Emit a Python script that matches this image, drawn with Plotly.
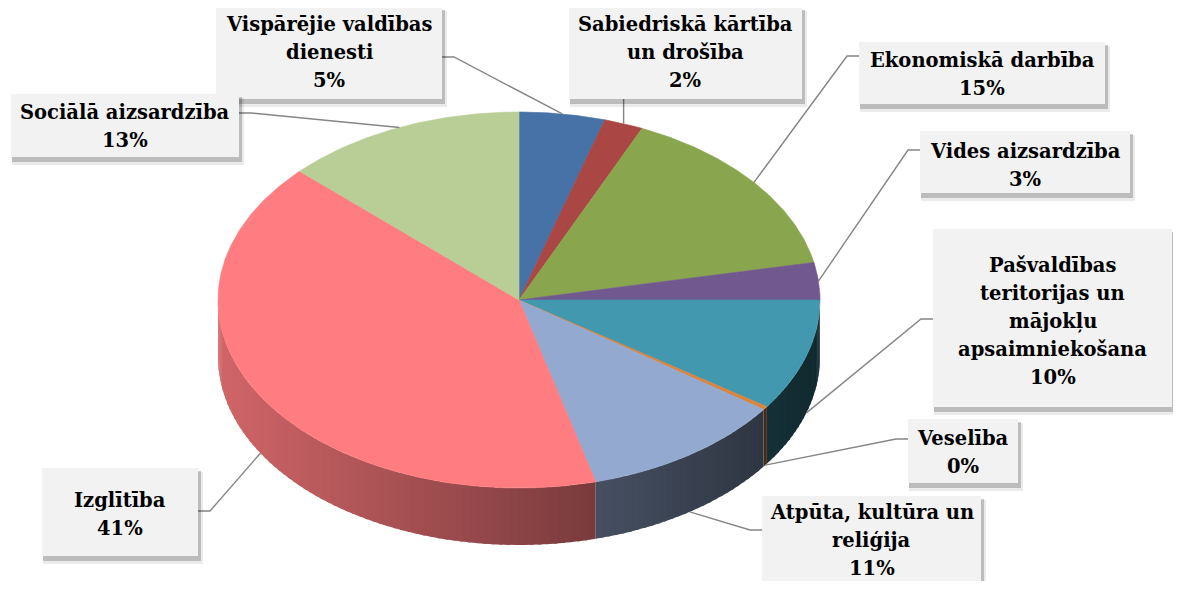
import numpy as np
import plotly.graph_objects as go

# ---------------- data ----------------
categories = [
    "Vispārējie valdības dienesti",
    "Sabiedriskā kārtība un drošība",
    "Ekonomiskā darbība",
    "Vides aizsardzība",
    "Pašvaldības teritorijas un mājokļu apsaimniekošana",
    "Veselība",
    "Atpūta, kultūra un reliģija",
    "Izglītība",
    "Sociālā aizsardzība",
]
label_lines = [
    ["Vispārējie valdības", "dienesti"],
    ["Sabiedriskā kārtība", "un drošība"],
    ["Ekonomiskā darbība"],
    ["Vides aizsardzība"],
    ["Pašvaldības", "teritorijas un", "mājokļu", "apsaimniekošana"],
    ["Veselība"],
    ["Atpūta, kultūra un", "reliģija"],
    ["Izglītība"],
    ["Sociālā aizsardzība"],
]
values = [4.6, 2.1, 15.1, 3.2, 9.6, 0.3, 11.0, 41.1, 13.0]
colors = ["#4672a8", "#aa4643", "#89a54e", "#71588f", "#4198af",
          "#db843d", "#93a9cf", "#ff7c80", "#b9cd96"]

# ---------------- layout / geometry ----------------
W, H = 1181, 589
OFF = 8  # page body margin
CX, CY, RX, RY, DEPTH = 519, 300, 301, 188, 57
LINE_H = 28

# label boxes (x0, y0, x1, y1), text centre y, leader attach side, attach coordinate
boxes = [
    (216, 7, 442, 99, 52, "right", 57),
    (569, 7, 802, 99, 52, "bottom", None),
    (859, 42, 1105, 104, 74, "left", 56),
    (920, 131, 1130, 193, 165, "left", 150),
    (933, 229, 1172, 407, 321, "left", 319),
    (908, 419, 1018, 483, 452, "left", 439),
    (762, 496, 981, 600, 540, "left", 530),
    (42, 468, 198, 556, 514, "right", 511),
    (11, 94, 239, 157, 126, "right", 113),
]


def hex2rgb(h):
    h = h.lstrip("#")
    return tuple(int(h[i:i + 2], 16) for i in (0, 2, 4))


def shade(hexcol, f):
    r, g, b = hex2rgb(hexcol)
    return "rgb(%d,%d,%d)" % (int(r * f), int(g * f), int(b * f))


def ell(theta_deg):
    t = np.radians(theta_deg)
    return CX + RX * np.sin(t), CY - RY * np.cos(t)


total = sum(values)
fracs = [v / total for v in values]
starts = np.concatenate([[0], np.cumsum(fracs)[:-1]]) * 360
ends = np.cumsum(fracs) * 360

fig = go.Figure()

# side walls (front half: 90..270 deg)
for k in range(len(values)):
    a, b = max(starts[k], 90), min(ends[k], 270)
    if b <= a:
        continue
    n = max(1, int(np.ceil((b - a) / 1.5)))
    edges = np.linspace(a, b, n + 1)
    for i in range(n):
        t0, t1 = edges[i], min(edges[i + 1] + 0.6, b)
        tt = np.linspace(t0, t1, 4)
        xs, ys = ell(tt)
        px = list(xs) + list(xs[::-1]) + [xs[0]]
        py = list(ys) + list((ys + DEPTH)[::-1]) + [ys[0]]
        xm = (xs.mean() - (CX - RX)) / (2 * RX)
        f = 0.82 - 0.55 * xm
        col = shade(colors[k], f)
        fig.add_trace(go.Scatter(x=px, y=py, mode="lines", fill="toself",
                                 fillcolor=col, line=dict(width=0),
                                 hoverinfo="skip", showlegend=False))

# top face
for k in range(len(values)):
    tt = np.linspace(starts[k], ends[k], max(3, int((ends[k] - starts[k]) * 2) + 2))
    xs, ys = ell(tt)
    px = [CX] + list(xs) + [CX]
    py = [CY] + list(ys) + [CY]
    fig.add_trace(go.Scatter(x=px, y=py, mode="lines", fill="toself",
                             fillcolor=colors[k], line=dict(color=colors[k], width=0.6),
                             hoverinfo="skip", showlegend=False, name=categories[k]))

# leader lines, label boxes and texts
shapes = []
annotations = []
for k in range(len(values)):
    x0, y0, x1, y1, ty, side, ay = boxes[k]
    mid = (starts[k] + ends[k]) / 2
    ex, ey = ell(mid)
    if 90 < mid < 270:
        ey = ey + DEPTH
    if side == "right":
        lx, ly = [x1, x1 + 12, ex], [ay, ay, ey]
    elif side == "left":
        lx, ly = [x0, x0 - 12, ex], [ay, ay, ey]
    else:
        lx, ly = [ex, ex], [y1, ey]
    fig.add_trace(go.Scatter(x=lx, y=ly, mode="lines",
                             line=dict(color="#858585", width=1.4),
                             hoverinfo="skip", showlegend=False))
    shapes.append(dict(type="rect", xref="x", yref="y", x0=x0 + 1, y0=y0 + 4,
                       x1=x1 + 5, y1=y1 + 8, fillcolor="rgba(0,0,0,0.08)",
                       line=dict(width=0), layer="above"))
    shapes.append(dict(type="rect", xref="x", yref="y", x0=x0 + 1, y0=y0 + 3,
                       x1=x1 + 3, y1=y1 + 5, fillcolor="rgba(0,0,0,0.20)",
                       line=dict(width=0), layer="above"))
    shapes.append(dict(type="rect", xref="x", yref="y", x0=x0, y0=y0,
                       x1=x1, y1=y1, fillcolor="#f2f2f2",
                       line=dict(width=0), layer="above"))
    pct = int(round(fracs[k] * 100))
    lines = label_lines[k] + ["%d%%" % pct]
    nl = len(lines)
    for i, ln in enumerate(lines):
        annotations.append(dict(
            x=(x0 + x1) / 2, y=ty + (i - (nl - 1) / 2) * LINE_H,
            xref="x", yref="y", text="<b>%s</b>" % ln,
            showarrow=False, xanchor="center", yanchor="middle",
            font=dict(family="DejaVu Serif", size=19.5, color="#000000")))

fig.update_layout(
    width=W - 2 * OFF, height=H - 2 * OFF,
    margin=dict(l=0, r=0, t=0, b=0),
    paper_bgcolor="white", plot_bgcolor="white",
    xaxis=dict(range=[OFF, W - OFF], visible=False, fixedrange=True),
    yaxis=dict(range=[H - OFF, OFF], visible=False, fixedrange=True),
    shapes=shapes, annotations=annotations, showlegend=False,
)

fig.write_html("out.html")
